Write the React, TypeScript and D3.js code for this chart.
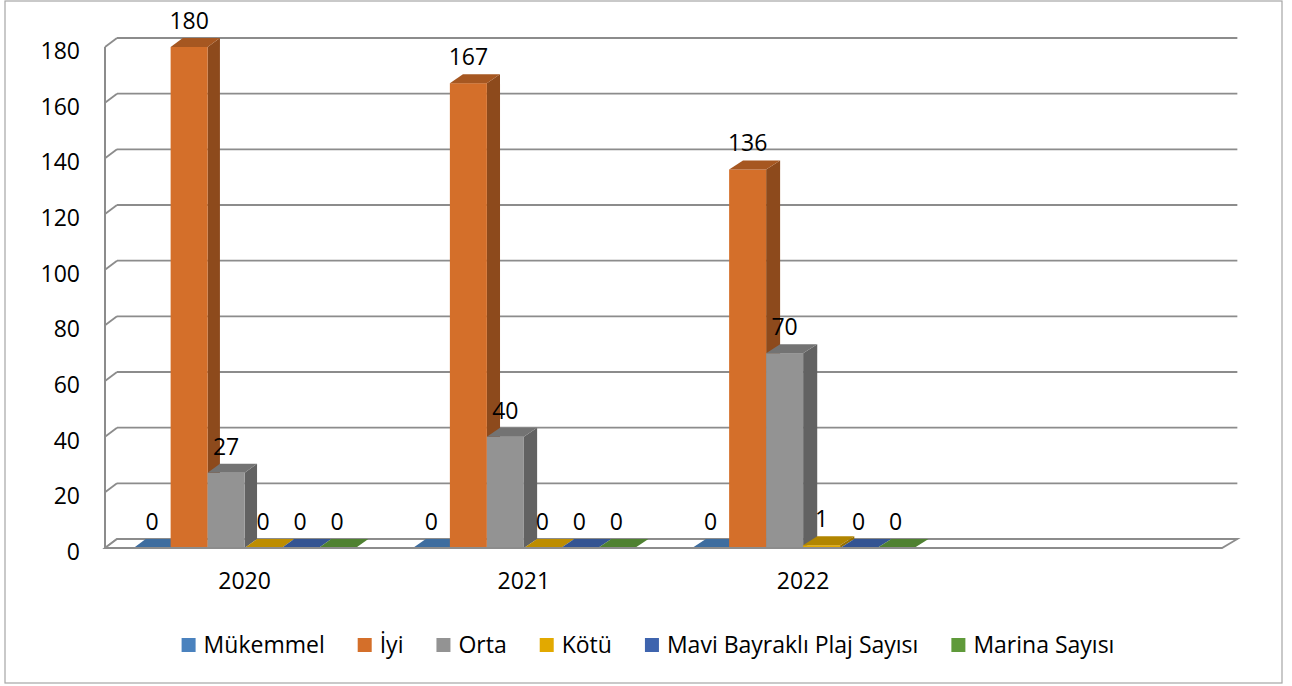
import React from "react";
import * as d3 from "d3";

const categories = ["2020", "2021", "2022", ""];
const seriesNames = ["Mükemmel", "İyi", "Orta", "Kötü", "Mavi Bayraklı Plaj Sayısı", "Marina Sayısı"];
const mukemmel = [0, 0, 0];
const iyi = [180, 167, 136];
const orta = [27, 40, 70];
const kotu = [0, 0, 1];
const maviBayrak = [0, 0, 0];
const marina = [0, 0, 0];
const seriesValues = [mukemmel, iyi, orta, kotu, maviBayrak, marina];
const seriesColors = ["#4A82BE", "#D46F2A", "#939393", "#E2A900", "#3E64AE", "#5F9A3A"];
const yTicks = [0, 20, 40, 60, 80, 100, 120, 140, 160, 180];

const W = 1292;
const H = 686;
const FONT = "'Open Sans', 'Noto Sans', sans-serif";
const FS = 23;

const left = 105, right = 1222, floorY = 548, topY = 47;
const DY = -9;
const dxAt = (x: number) => 12 + 0.003 * (x - left);

function measure(text: string, size: number) {
  if (typeof document === "undefined") return text.length * size * 0.55;
  const c = document.createElement("canvas").getContext("2d");
  if (!c) return text.length * size * 0.55;
  c.font = `${size}px 'Open Sans'`;
  return c.measureText(text).width;
}

export default function App() {
  const x = d3.scaleBand<string>().domain(categories).range([left, right]).padding(0);
  const catW = x.bandwidth();
  const gap = catW * 0.205;
  const xs = d3.scaleBand<string>().domain(seriesNames).range([gap / 2, catW - gap / 2]).padding(0);
  const bw = xs.bandwidth();
  const y = d3.scaleLinear().domain([0, 180]).range([floorY, topY]);

  const grid = "#8c8c8c";

  const bars: React.ReactNode[] = [];
  categories.slice(0, 3).forEach((cat, ci) => {
    seriesNames.forEach((s, si) => {
      const v = seriesValues[si][ci];
      const x0 = (x(cat) as number) + (xs(s) as number);
      const x1 = x0 + bw;
      const yt = y(v);
      const dx0 = dxAt(x0);
      const dx1 = dxAt(x1);
      const base = d3.color(seriesColors[si])!;
      const front = base.formatHex();
      const side = base.darker(1.15).formatHex();
      const top = base.darker(0.68).formatHex();
      const key = `${ci}-${si}`;
      const topPts = [[x0, yt], [x0 + dx0, yt + DY], [x1 + dx1, yt + DY], [x1, yt]];
      const sidePts = [[x1, yt], [x1 + dx1, yt + DY], [x1 + dx1, floorY + DY], [x1, floorY]];
      bars.push(
        <g key={key}>
          {v > 0 && <polygon points={sidePts.map((p) => p.join(",")).join(" ")} fill={side} />}
          {v > 0 && <rect x={x0} y={yt} width={bw} height={floorY - yt} fill={front} />}
          <polygon points={topPts.map((p) => p.join(",")).join(" ")} fill={v > 0 ? top : d3.color(seriesColors[si])!.darker(0.5).formatHex()} />
        </g>
      );
    });
  });

  const labels: React.ReactNode[] = [];
  categories.slice(0, 3).forEach((cat, ci) => {
    seriesNames.forEach((s, si) => {
      const v = seriesValues[si][ci];
      const x0 = (x(cat) as number) + (xs(s) as number);
      labels.push(
        <text key={`l${ci}-${si}`} x={x0 + bw / 2} y={y(v) - 18} textAnchor="middle" fontSize={FS} fontFamily={FONT} fill="#000">
          {v}
        </text>
      );
    });
  });

  const sq = 14, textOff = 22, itemGap = 33;
  const widths = seriesNames.map((n) => measure(n, FS));
  const total = widths.reduce((a, w) => a + textOff + w, 0) + itemGap * (seriesNames.length - 1);
  let lx = 648 - total / 2;
  const legendItems = seriesNames.map((n, i) => {
    const sx = lx;
    lx += textOff + widths[i] + itemGap;
    return (
      <g key={n}>
        <rect x={sx} y={638} width={sq} height={sq} fill={seriesColors[i]} />
        <text x={sx + textOff} y={653} fontSize={FS} fontFamily={FONT} fill="#000">{n}</text>
      </g>
    );
  });

  const backLeft = left + dxAt(left);
  const backRight = right + dxAt(right);

  return (
    <svg width={W} height={H} style={{ position: "absolute", left: 0, top: 0, background: "#fff" }}>
      <rect x={5} y={1} width={1277} height={682} fill="#fff" stroke="#a6a6a6" strokeWidth={1.2} />
      {yTicks.map((t) => (
        <g key={t}>
          <line x1={backLeft} x2={backRight} y1={y(t) + DY} y2={y(t) + DY} stroke={grid} strokeWidth={1.8} />
          <line x1={left} y1={y(t)} x2={backLeft} y2={y(t) + DY} stroke={grid} strokeWidth={1.8} />
        </g>
      ))}
      <polygon
        points={`${left},${floorY} ${backLeft},${floorY + DY} ${backRight},${floorY + DY} ${right},${floorY}`}
        fill="#fff"
        stroke={grid}
        strokeWidth={1.8}
      />
      <line x1={left} x2={left} y1={y(180)} y2={floorY} stroke={grid} strokeWidth={2} />
      {bars}
      <line x1={left} x2={right} y1={floorY} y2={floorY} stroke={grid} strokeWidth={2.2} />
      {labels}
      {yTicks.map((t) => (
        <text key={`y${t}`} x={80} y={y(t) + 3} textAnchor="end" dominantBaseline="central" fontSize={FS} fontFamily={FONT} fill="#000">
          {t}
        </text>
      ))}
      {categories.map((c) => (
        <text key={`c${c}`} x={(x(c) as number) + catW / 2} y={589} textAnchor="middle" fontSize={FS} fontFamily={FONT} fill="#000">
          {c}
        </text>
      ))}
      {legendItems}
    </svg>
  );
}
